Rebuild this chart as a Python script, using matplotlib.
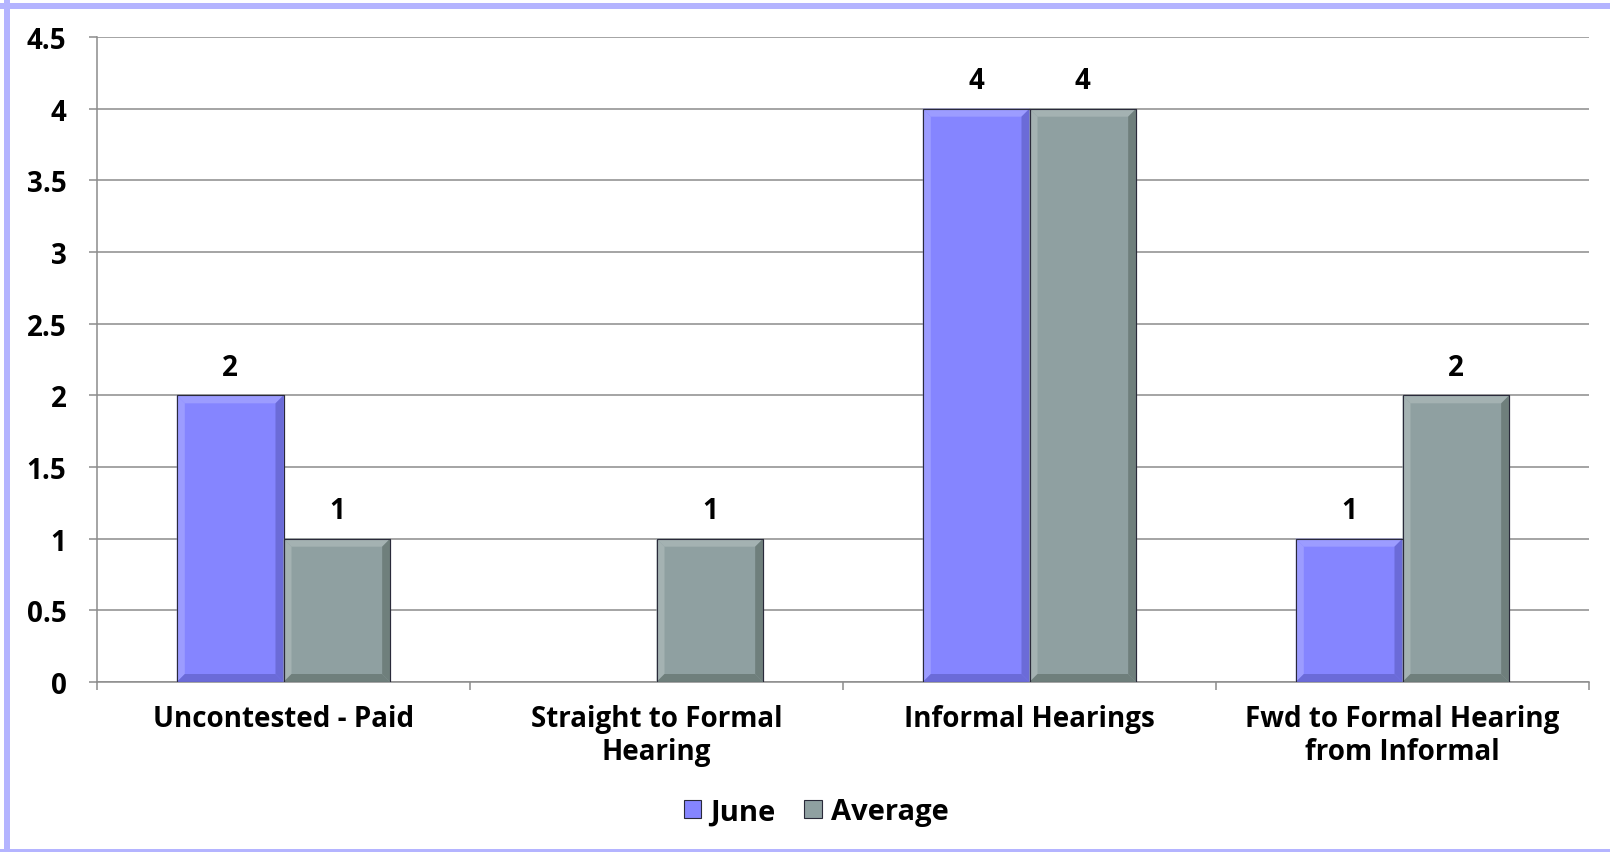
import numpy as np
import matplotlib
matplotlib.use('Agg')
import matplotlib.pyplot as plt
from matplotlib.patches import Polygon, Rectangle
from matplotlib.ticker import FixedLocator, FuncFormatter

plt.rcParams['font.family'] = ['Open Sans', 'DejaVu Sans']
plt.rcParams['font.weight'] = 'bold'

# data
categories = ['Uncontested - Paid', 'Straight to Formal\nHearing',
              'Informal Hearings', 'Fwd to Formal Hearing\nfrom Informal']
june = [2, np.nan, 4, 1]
average = [1, 1, 4, 2]
series_names = ['June', 'Average']

# fill, light bevel, dark bevel
june_colors = ('#8585ff', '#9c9cff', '#6b6bd8')
avg_colors = ('#8fa0a1', '#a4b2b2', '#6f7f7c')
grid_color = '#8c8c8c'
FS = 20

W, H, DPI = 1610, 853, 100
fig = plt.figure(figsize=(W / DPI, H / DPI), dpi=DPI)
ax = fig.add_axes([97 / W, 1 - 683 / H, (1589 - 97) / W, (683 - 38) / H])

ymax = 4.5
x = np.arange(len(categories))
bw = 0.286

# bevel size in data units (about 8 px)
px_x = len(categories) / (1589 - 97)
px_y = ymax / (683 - 38)
bx, by = 8 * px_x, 8 * px_y


def bevel_bar(x0, h, colors):
    fill, light, dark = colors
    x1 = x0 + bw
    ax.bar(x0, h, width=bw, align='edge', color=fill, edgecolor='#2a2a3a',
           linewidth=0.8, zorder=3)
    ix0, ix1, iy0, iy1 = x0 + bx, x1 - bx, by, h - by
    polys = [
        ([(x0, h), (x1, h), (ix1, iy1), (ix0, iy1)], light),    # top
        ([(x0, 0), (x0, h), (ix0, iy1), (ix0, iy0)], light),    # left
        ([(x1, 0), (x1, h), (ix1, iy1), (ix1, iy0)], dark),     # right
        ([(x0, 0), (x1, 0), (ix1, iy0), (ix0, iy0)], dark),     # bottom
    ]
    for pts, c in polys:
        ax.add_patch(Polygon(pts, closed=True, facecolor=c, edgecolor='none',
                             zorder=4))
    ax.add_patch(Rectangle((x0, 0), bw, h, facecolor='none',
                           edgecolor='#2a2a3a', linewidth=0.8, zorder=5))


for i in range(len(categories)):
    for j, (vals, cols) in enumerate([(june, june_colors), (average, avg_colors)]):
        v = vals[i]
        if np.isnan(v):
            continue
        x0 = x[i] - bw + j * bw
        bevel_bar(x0, v, cols)
        ax.annotate(f'{v:g}', xy=(x0 + bw / 2, v), xytext=(0, 20),
                    textcoords='offset points', ha='center', va='center',
                    fontsize=FS, fontweight='bold', color='black')

ax.set_xlim(-0.5, len(categories) - 0.5)
ax.set_ylim(0, ymax)
ax.set_yticks(np.arange(0, ymax + 0.01, 0.5))
ax.yaxis.set_major_formatter(FuncFormatter(lambda v, p: f'{v:g}'))
ax.grid(True, axis='y', color=grid_color, linewidth=1.1, zorder=0)
ax.set_axisbelow(True)

ax.set_xticks(x)
ax.set_xticklabels(categories, fontsize=FS, fontweight='bold', linespacing=1.15)
ax.tick_params(axis='x', which='major', length=0, pad=16)
ax.xaxis.set_minor_locator(FixedLocator(np.arange(-0.5, len(categories), 1.0)))
ax.tick_params(axis='x', which='minor', length=6, width=1.1, color=grid_color)
ax.tick_params(axis='y', length=6, width=1.1, color=grid_color, labelsize=FS, pad=16)
for lab in ax.get_yticklabels():
    lab.set_fontweight('bold')

for side in ['top', 'right']:
    ax.spines[side].set_visible(False)
for side in ['left', 'bottom']:
    ax.spines[side].set_color(grid_color)
    ax.spines[side].set_linewidth(1.1)

# legend
handles = [Rectangle((0, 0), 1, 1, facecolor=june_colors[0], edgecolor='#2a2a3a', linewidth=0.8),
           Rectangle((0, 0), 1, 1, facecolor=avg_colors[0], edgecolor='#2a2a3a', linewidth=0.8)]
fig.legend(handles, series_names, loc='center', bbox_to_anchor=(816 / W, 1 - 813 / H),
           ncol=2, frameon=False, prop={'size': 21, 'weight': 'bold'},
           handlelength=0.6, handleheight=0.6, handletextpad=0.3, columnspacing=1.0)

# lavender frame on left, top and bottom edges
frame = '#b4b4ff'
fig.patches.append(Rectangle((4 / W, 0), 6 / W, 1, transform=fig.transFigure,
                             facecolor=frame, edgecolor='none'))
fig.patches.append(Rectangle((0, 1 - 10 / H), 1, 6 / H, transform=fig.transFigure,
                             facecolor=frame, edgecolor='none'))
fig.patches.append(Rectangle((0, 0), 1, 3 / H, transform=fig.transFigure,
                             facecolor=frame, edgecolor='none'))

fig.savefig('out.png', dpi=DPI)
